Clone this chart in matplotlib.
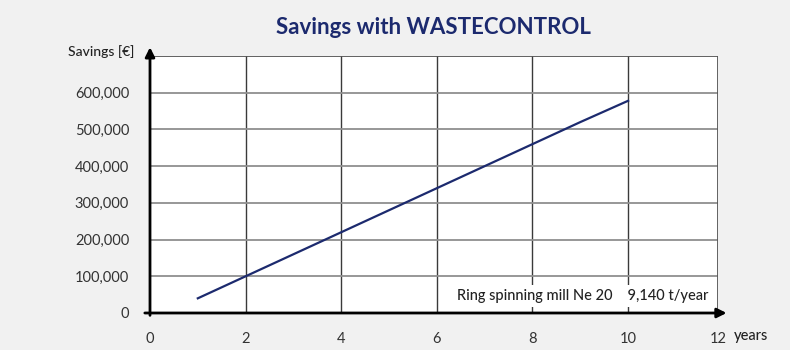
import matplotlib.pyplot as plt
from matplotlib.patches import Rectangle

# savings curve
years = [1, 2, 3, 4, 5, 6, 7, 8, 9, 10]
savings = [40000, 100000, 160000, 220000, 280000, 340000, 400000, 460000, 520000, 578000]

x_ticks = [0, 2, 4, 6, 8, 10]
y_ticks = [0, 100000, 200000, 300000, 400000, 500000, 600000]
y_labels = ['0', '100,000', '200,000', '300,000', '400,000', '500,000', '600,000']

navy = '#1c2a6e'
plt.rcParams['font.family'] = ['Lato', 'DejaVu Sans']

fig = plt.figure(figsize=(8, 3.54), dpi=100)
fig.patch.set_facecolor('white')
fig.patches.append(Rectangle((0, 4 / 354), 790 / 800, 350 / 354, transform=fig.transFigure,
                             facecolor='#f1f1f1', edgecolor='none', zorder=-10))

x_end = 11.88  # the right border sits a bit short of 12 in the original
ax = fig.add_axes([150 / 800, 41 / 354, 568 / 800, 257 / 354])
ax.set_facecolor('white')
ax.set_xlim(0, x_end)
ax.set_ylim(0, 700000)

# grid
for xv in x_ticks[1:]:
    ax.axvline(xv, color='#3a3a3a', lw=1, zorder=1)
for yv in y_ticks[1:]:
    ax.axhline(yv, color='#8f8f8f', lw=1.3, zorder=1)
ax.axhline(700000, color='#555555', lw=1.3, zorder=1)
ax.axvline(x_end, color='#555555', lw=1.3, zorder=5)

ax.plot(years, savings, color=navy, lw=1.6, zorder=3)

for s in ax.spines.values():
    s.set_visible(False)

ax.set_xticks(x_ticks + [x_end])
ax.set_xticklabels([str(v) for v in x_ticks] + ['12'])
ax.set_yticks(y_ticks)
ax.set_yticklabels(y_labels)
ax.tick_params(length=0, labelsize=10.5, colors='#333333', pad=15)
ax.tick_params(axis='x', pad=14)

# axes with arrows
ax.annotate('', xy=(0, 1.045), xytext=(0, -0.02), xycoords='axes fraction',
            arrowprops=dict(arrowstyle='-|>', color='black', lw=2, mutation_scale=14),
            annotation_clip=False, zorder=6)
ax.annotate('', xy=(1.02, 0), xytext=(-0.014, 0), xycoords='axes fraction',
            arrowprops=dict(arrowstyle='-|>', color='black', lw=2, mutation_scale=14),
            annotation_clip=False, zorder=6)

ax.text(11.68, 47000, 'Ring spinning mill Ne 20    9,140 t/year', ha='right', va='center',
        fontsize=10.5, color='#222222', fontweight='medium', zorder=4,
        bbox=dict(facecolor='white', edgecolor='none', pad=3))

fig.text(433 / 800, 1 - 27 / 354, 'Savings with WASTECONTROL', ha='center', va='center',
         fontsize=16, fontweight='bold', color=navy)
fig.text(134 / 800, 1 - 52 / 354, 'Savings [€]', ha='right', va='center',
         fontsize=10, color='#222222', fontweight='medium')
fig.text(734 / 800, 1 - 336 / 354, 'years', ha='left', va='center',
         fontsize=10.5, color='#222222', fontweight='medium')

fig.savefig('out.png', dpi=100, facecolor=fig.get_facecolor())
